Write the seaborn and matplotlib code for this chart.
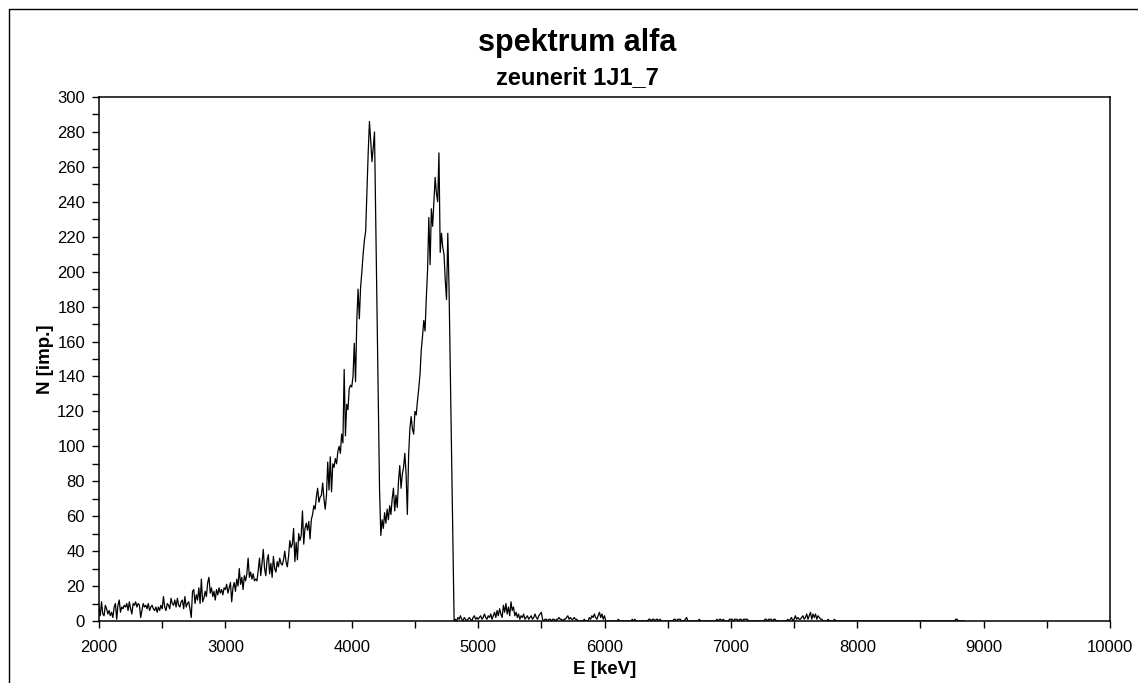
import numpy as np
import pandas as pd
import matplotlib
matplotlib.use("Agg")
import matplotlib.pyplot as plt
from matplotlib.lines import Line2D
import seaborn as sns

# Spectrometer calibration: channel energies in keV
E_START = 2000
E_STEP = 10

# Counts per channel, 2000-3490 keV
counts_low = [
    8, 3, 11, 4, 3, 9, 7, 4, 6, 3,
    5, 2, 8, 10, 1, 9, 12, 5, 8, 7,
    9, 8, 10, 6, 11, 7, 4, 10, 9, 11,
    8, 10, 9, 2, 6, 10, 8, 9, 7, 10,
    6, 8, 9, 7, 6, 8, 5, 8, 6, 9,
    7, 14, 8, 6, 10, 9, 7, 13, 10, 9,
    12, 8, 13, 9, 8, 11, 12, 7, 14, 8,
    10, 11, 7, 2, 17, 18, 10, 15, 12, 19,
    10, 24, 11, 13, 17, 14, 22, 25, 16, 19,
    14, 17, 12, 18, 15, 19, 16, 18, 15, 19,
    18, 21, 16, 19, 22, 11, 19, 22, 17, 24,
    20, 30, 21, 25, 18, 26, 23, 27, 36, 25,
    28, 24, 27, 23, 24, 23, 29, 36, 26, 33,
    41, 30, 26, 35, 38, 27, 33, 25, 37, 30,
    28, 34, 31, 36, 33, 32, 35, 40, 34, 31,
]

# Counts per channel, 3500-4810 keV (the two alpha peaks)
counts_peaks = [
    37, 46, 42, 44, 53, 34, 45, 35, 50, 46,
    49, 63, 44, 53, 56, 52, 57, 47, 58, 61,
    66, 64, 71, 76, 68, 71, 72, 79, 70, 64,
    72, 91, 75, 94, 74, 90, 88, 93, 90, 97,
    100, 96, 107, 102, 144, 106, 124, 121, 133, 135,
    134, 140, 159, 137, 172, 190, 173, 191, 200, 210,
    218, 223, 245, 268, 286, 275, 263, 271, 280, 229,
    178, 126, 75, 49, 58, 53, 62, 56, 64, 58,
    66, 61, 70, 76, 63, 72, 65, 80, 89, 76,
    84, 88, 96, 84, 61, 95, 110, 117, 110, 107,
    120, 118, 126, 133, 141, 155, 163, 172, 166, 185,
    201, 231, 204, 236, 226, 240, 254, 245, 240, 268,
    211, 222, 214, 210, 195, 184, 222, 190, 143, 96,
    48, 0,
]

# Counts per channel, 4820-8850 keV (background above the peaks)
counts_tail = [
    1, 0, 2, 1, 3, 1, 0, 2, 1, 0,
    1, 2, 1, 0, 2, 3, 1, 2, 1, 2,
    3, 1, 2, 4, 2, 1, 3, 2, 4, 1,
    3, 5, 2, 6, 3, 7, 4, 2, 9, 5,
    10, 4, 8, 3, 11, 6, 8, 3, 5, 2,
    4, 1, 3, 2, 4, 1, 2, 3, 1, 2,
    3, 1, 2, 4, 2, 1, 3, 4, 5, 1,
    0, 1, 1, 0, 1, 1, 0, 1, 1, 0,
    1, 1, 2, 1, 1, 0, 1, 1, 2, 3,
    1, 2, 1, 1, 2, 1, 1, 0, 0, 0,
    0, 0, 1, 0, 0, 0, 2, 1, 3, 2,
    4, 2, 1, 3, 5, 2, 4, 1, 3, 0,
    0, 0, 0, 0, 0, 0, 0, 0, 0, 1,
    0, 0, 0, 0, 0, 0, 0, 0, 0, 0,
    1, 0, 1, 0, 0, 0, 0, 0, 0, 0,
    0, 0, 0, 1, 1, 0, 1, 1, 0, 1,
    1, 0, 1, 0, 0, 0, 0, 0, 0, 0,
    0, 0, 0, 1, 1, 0, 1, 1, 1, 0,
    0, 0, 1, 2, 0, 0, 0, 0, 0, 0,
    0, 0, 0, 1, 0, 0, 0, 0, 0, 0,
    0, 0, 0, 0, 0, 0, 0, 1, 0, 1,
    1, 0, 1, 0, 0, 0, 0, 1, 1, 1,
    0, 1, 1, 1, 0, 1, 1, 0, 1, 1,
    1, 1, 0, 0, 0, 0, 0, 0, 0, 0,
    0, 0, 0, 0, 0, 1, 1, 0, 1, 1,
    1, 0, 1, 1, 0, 0, 0, 0, 0, 0,
    0, 0, 0, 1, 0, 1, 2, 0, 1, 3,
    1, 2, 1, 1, 2, 3, 1, 2, 4, 1,
    3, 5, 1, 4, 2, 4, 1, 3, 2, 1,
    1, 0, 0, 0, 0, 1, 0, 0, 0, 0,
    1, 0, 0, 0, 0, 0, 0, 0, 0, 0,
    0, 0, 0, 0, 0, 0, 0, 0, 0, 0,
    0, 0, 0, 0, 0, 0, 0, 0, 0, 0,
    0, 0, 0, 0, 0, 0, 0, 0, 0, 0,
    0, 0, 0, 0, 0, 0, 0, 0, 0, 0,
    0, 0, 0, 0, 0, 0, 0, 0, 0, 0,
    0, 0, 0, 0, 0, 0, 0, 0, 0, 0,
    0, 0, 0, 0, 0, 0, 0, 0, 0, 0,
    0, 0, 0, 0, 0, 0, 0, 0, 0, 0,
    0, 0, 0, 0, 0, 0, 1, 1, 0, 0,
    0, 0, 0, 0,
]

x_ticks = [2000, 3000, 4000, 5000, 6000, 7000, 8000, 9000, 10000]
y_ticks = list(range(0, 301, 20))

title = "spektrum alfa"
subtitle = "zeunerit 1J1_7"
x_label = "E [keV]"
y_label = "N [imp.]"

counts = np.array(counts_low + counts_peaks + counts_tail, dtype=float)
energy = E_START + E_STEP * np.arange(len(counts))
df = pd.DataFrame({"E": energy, "N": counts})

sns.set_theme(style="ticks")
plt.rcParams["font.family"] = ["Liberation Sans", "DejaVu Sans"]

W, H = 1138, 683
fig = plt.figure(figsize=(W / 100, H / 100), dpi=100)
fig.patch.set_facecolor("white")

left, right, top, bottom = 99, 1110, 97, 621
ax = fig.add_axes([left / W, 1 - bottom / H, (right - left) / W, (bottom - top) / H])

sns.lineplot(data=df, x="E", y="N", ax=ax, color="black", linewidth=0.9,
             estimator=None, sort=False)

ax.set_xlim(2000, 10000)
ax.set_ylim(0, 300)
ax.set_xticks(x_ticks)
ax.set_xticks([t + 500 for t in x_ticks[:-1]], minor=True)
ax.set_yticks(y_ticks)
ax.set_yticks([t + 10 for t in y_ticks[:-1]], minor=True)
ax.set_xlabel("")
ax.set_ylabel("")

ax.tick_params(axis="both", which="both", direction="out", length=5, width=1,
               color="black", labelcolor="black")
ax.tick_params(axis="y", which="major", labelsize=12, pad=5)
ax.tick_params(axis="x", which="major", labelsize=12, pad=9)
for sp in ax.spines.values():
    sp.set_visible(True)
    sp.set_color("black")
    sp.set_linewidth(1.1)
ax.set_facecolor("white")
ax.grid(False)

cx = 577 / W
fig.text(cx, 1 - 43 / H, title, ha="center", va="center",
         fontsize=22, fontweight="bold", color="black")
fig.text(cx, 1 - 78 / H, subtitle, ha="center", va="center",
         fontsize=17, fontweight="bold", color="black")
fig.text((left + right) / 2 / W, 1 - 669 / H, x_label, ha="center", va="center",
         fontsize=13.5, fontweight="bold", color="black")
fig.text(45 / W, 1 - (top + bottom) / 2 / H, y_label, ha="center", va="center",
         rotation=90, fontsize=13.5, fontweight="bold", color="black")

# Chart frame along the top and left edges
fig.add_artist(Line2D([9 / W, 1], [1 - 9 / H, 1 - 9 / H], transform=fig.transFigure,
                      color="black", linewidth=1))
fig.add_artist(Line2D([9 / W, 9 / W], [0, 1 - 9 / H], transform=fig.transFigure,
                      color="black", linewidth=1))

fig.savefig("out.png", dpi=100, facecolor="white")
